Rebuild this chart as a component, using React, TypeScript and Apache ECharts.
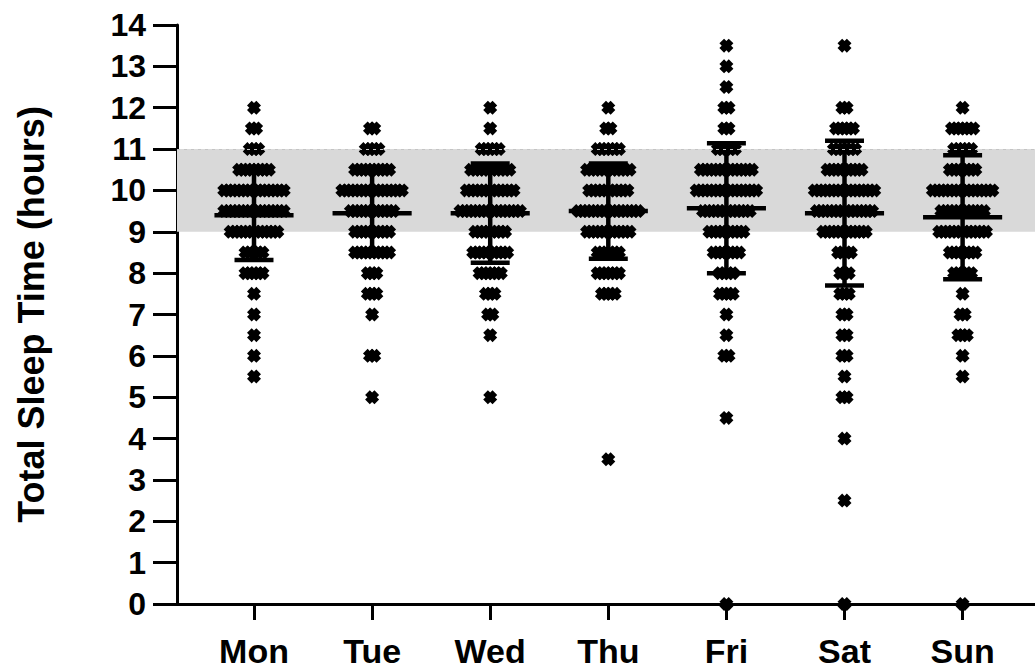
import React, { useEffect, useRef } from "react";
import * as echarts from "echarts";

// ---- data ----
const days = ["Mon", "Tue", "Wed", "Thu", "Fri", "Sat", "Sun"];
const yTicks = [0, 1, 2, 3, 4, 5, 6, 7, 8, 9, 10, 11, 12, 13, 14];
// half-hour sleep levels (hours), top to bottom
const levels = [13.5, 13, 12.5, 12, 11.5, 11, 10.5, 10, 9.5, 9, 8.5, 8, 7.5, 7, 6.5, 6, 5.5, 5, 4.5, 4, 3.5, 3, 2.5, 2, 1.5, 1, 0.5, 0];
// number of children at each level, per day
const monCounts = [0, 0, 0, 1, 2, 3, 8, 15, 15, 12, 5, 5, 1, 1, 1, 1, 1, 0, 0, 0, 0, 0, 0, 0, 0, 0, 0, 0];
const tueCounts = [0, 0, 0, 0, 2, 4, 9, 15, 11, 9, 9, 3, 3, 1, 0, 2, 0, 1, 0, 0, 0, 0, 0, 0, 0, 0, 0, 0];
const wedCounts = [0, 0, 0, 1, 1, 5, 10, 12, 15, 8, 9, 6, 3, 2, 1, 0, 0, 1, 0, 0, 0, 0, 0, 0, 0, 0, 0, 0];
const thuCounts = [0, 0, 0, 1, 2, 6, 11, 10, 15, 11, 6, 6, 4, 0, 0, 0, 0, 0, 0, 0, 1, 0, 0, 0, 0, 0, 0, 0];
const friCounts = [1, 1, 1, 2, 2, 5, 13, 15, 12, 9, 7, 4, 4, 1, 1, 2, 0, 0, 1, 0, 0, 0, 0, 0, 0, 0, 0, 1];
const satCounts = [1, 0, 0, 2, 5, 6, 9, 15, 14, 11, 4, 3, 3, 2, 2, 2, 1, 2, 0, 1, 0, 0, 1, 0, 0, 0, 0, 1];
const sunCounts = [0, 0, 0, 1, 6, 5, 7, 15, 11, 12, 7, 5, 1, 2, 3, 1, 1, 0, 0, 0, 0, 0, 0, 0, 0, 0, 0, 1];
// mean and SD per day
const means = [9.4, 9.45, 9.45, 9.5, 9.57, 9.45, 9.35];
const sds = [1.08, 1.0, 1.2, 1.15, 1.57, 1.75, 1.5];
// recommended band
const bandLow = 9;
const bandHigh = 11;

const allCounts = [monCounts, tueCounts, wedCounts, thuCounts, friCounts, satCounts, sunCounts];

const STEP = 0.036; // horizontal spread between stacked points (in category units)
const FONT = "'Liberation Sans', Arial, Helvetica, sans-serif";
const XSYMBOL = "path://M0,4L4,0L6,2L8,0L12,4L10,6L12,8L8,12L6,10L4,12L0,8L2,6Z";

function buildPoints() {
  const pts: number[][] = [];
  allCounts.forEach((counts, d) => {
    counts.forEach((n, i) => {
      for (let j = 0; j < n; j++) {
        pts.push([d + (j - (n - 1) / 2) * STEP, levels[i]]);
      }
    });
  });
  return pts;
}

export default function App() {
  const ref = useRef<HTMLDivElement>(null);
  useEffect(() => {
    if (!ref.current) return;
    const chart = echarts.init(ref.current, undefined, { renderer: "svg" });
    const dayIdx = days.map((_, i) => i);
    const option: any = {
      animation: false,
      backgroundColor: "#fff",
      grid: { left: 177, right: 0, top: 25, bottom: 66, outerBoundsMode: "none" },
      xAxis: {
        type: "value",
        min: -0.652,
        max: 6.613,
        splitLine: { show: false },
        axisLine: { show: true, onZero: false, lineStyle: { color: "#000", width: 3 } },
        axisTick: { show: true, customValues: dayIdx, length: 16, lineStyle: { color: "#000", width: 3 } },
        axisLabel: {
          customValues: dayIdx,
          formatter: (v: number) => days[Math.round(v)] ?? "",
          margin: 30,
          fontSize: 34,
          lineHeight: 34,
          fontWeight: "bold",
          fontFamily: FONT,
          color: "#000",
        },
      },
      yAxis: {
        type: "value",
        min: 0,
        max: 14,
        interval: 1,
        splitLine: { show: false },
        axisLine: { show: true, onZero: false, lineStyle: { color: "#000", width: 3 } },
        axisTick: { show: true, length: 24, lineStyle: { color: "#000", width: 3 } },
        axisLabel: {
          margin: 31,
          fontSize: 32,
          fontWeight: "bold",
          fontFamily: FONT,
          color: "#000",
          formatter: (v: number) => (yTicks.includes(v) ? String(v) : ""),
        },
        name: "Total Sleep Time (hours)",
        nameLocation: "middle",
        nameGap: 128,
        nameTextStyle: { fontSize: 36, fontWeight: "bold", fontFamily: FONT, color: "#000" },
      },
      series: [
        {
          type: "line",
          data: [],
          z: 1,
          silent: true,
          markArea: {
            silent: true,
            itemStyle: { color: "#d9d9d9" },
            data: [[{ yAxis: bandLow }, { yAxis: bandHigh }]],
          },
          markLine: {
            silent: true,
            symbol: "none",
            label: { show: false },
            lineStyle: { type: [3, 4], color: "#c4c4c4", width: 1 },
            data: [{ yAxis: bandHigh }],
          },
        },
        {
          type: "scatter",
          z: 3,
          symbol: XSYMBOL,
          symbolSize: 14,
          itemStyle: { color: "#000", opacity: 1 },
          data: buildPoints(),
        },
        {
          type: "custom",
          z: 4,
          data: means.map((m, i) => [i, m, sds[i]]),
          renderItem: (params: any, api: any) => {
            const x = api.value(0);
            const m = api.value(1);
            const sd = api.value(2);
            const c = api.coord([x, m]);
            const top = api.coord([x, m + sd]);
            const bot = api.coord([x, m - sd]);
            const halfMean = api.size([0.335, 0])[0];
            const halfCap = api.size([0.165, 0])[0];
            const style = { stroke: "#000", lineWidth: 4.5 };
            return {
              type: "group",
              children: [
                { type: "line", shape: { x1: c[0], y1: top[1], x2: c[0], y2: bot[1] }, style },
                { type: "line", shape: { x1: c[0] - halfCap, y1: top[1], x2: c[0] + halfCap, y2: top[1] }, style },
                { type: "line", shape: { x1: c[0] - halfCap, y1: bot[1], x2: c[0] + halfCap, y2: bot[1] }, style },
                { type: "line", shape: { x1: c[0] - halfMean, y1: c[1], x2: c[0] + halfMean, y2: c[1] }, style },
              ],
            };
          },
        },
      ],
    };
    chart.setOption(option);
    return () => chart.dispose();
  }, []);
  return (
    <div
      ref={ref}
      style={{ position: "absolute", left: 0, top: 0, width: 1035, height: 670, background: "#fff" }}
    />
  );
}
